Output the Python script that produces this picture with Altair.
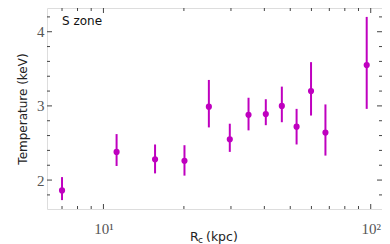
import altair as alt
import pandas as pd

radius = [7.0, 11.2, 15.6, 20.1, 24.8, 29.7, 34.9, 40.5, 46.5, 52.8, 59.8, 67.7, 96.6]
temp = [1.86, 2.38, 2.28, 2.26, 2.99, 2.55, 2.88, 2.89, 3.00, 2.72, 3.20, 2.64, 3.55]
temp_hi = [2.04, 2.62, 2.48, 2.47, 3.35, 2.76, 3.11, 3.09, 3.26, 2.96, 3.59, 3.02, 4.20]
temp_lo = [1.73, 2.19, 2.09, 2.06, 2.71, 2.38, 2.67, 2.74, 2.78, 2.48, 2.87, 2.33, 2.96]

x_major = [10, 100]
x_minor = [7, 8, 9, 20, 30, 40, 50, 60, 70, 80, 90]
y_major = [2, 3, 4]
y_minor = [1.8, 2.2, 2.4, 2.6, 2.8, 3.2, 3.4, 3.6, 3.8, 4.2]

W, H = 335, 201
COLOR = "#bf00bf"
AXC = "#444444"

df = pd.DataFrame({"r": radius, "t": temp, "hi": temp_hi, "lo": temp_lo})
xs = alt.Scale(type="log", domain=[6.15, 110.2], nice=False)
ys = alt.Scale(domain=[1.61, 4.32], nice=False, zero=False)

xaxis = alt.Axis(values=x_major, ticks=False, domain=False, grid=False,
                 labelExpr="datum.value == 10 ? '10¹' : '10²'",
                 labelFont="Liberation Serif", labelFontSize=15, labelColor="#555555",
                 labelPadding=12, title=None)
yaxis = alt.Axis(values=y_major, ticks=False, domain=False, grid=False, format="d",
                 labelFont="Liberation Serif", labelFontSize=15, labelColor="#555555",
                 labelPadding=3, title="Temperature (keV)", titleFont="DejaVu Sans",
                 titleFontSize=12, titleFontWeight="normal", titleColor="#222222",
                 titlePadding=7)

bars = alt.Chart(df).mark_rule(color=COLOR, strokeWidth=2).encode(
    x=alt.X("r:Q", scale=xs, axis=xaxis),
    y=alt.Y("lo:Q", scale=ys, axis=yaxis),
    y2="hi:Q",
)
pts = alt.Chart(df).mark_circle(color=COLOR, opacity=1, size=38).encode(
    x=alt.X("r:Q", scale=xs), y=alt.Y("t:Q", scale=ys)
)

def xticks(vals, L):
    d = pd.DataFrame({"v": vals})
    bot = alt.Chart(d).mark_rule(color=AXC, strokeWidth=1).encode(
        x=alt.X("v:Q", scale=xs), y=alt.value(H), y2=alt.value(H - L))
    top = alt.Chart(d).mark_rule(color=AXC, strokeWidth=1).encode(
        x=alt.X("v:Q", scale=xs), y=alt.value(0), y2=alt.value(L))
    return [bot, top]

def yticks(vals, L):
    d = pd.DataFrame({"v": vals})
    lft = alt.Chart(d).mark_rule(color=AXC, strokeWidth=1).encode(
        y=alt.Y("v:Q", scale=ys), x=alt.value(0), x2=alt.value(L))
    rgt = alt.Chart(d).mark_rule(color=AXC, strokeWidth=1).encode(
        y=alt.Y("v:Q", scale=ys), x=alt.value(W), x2=alt.value(W - L))
    return [lft, rgt]

ticks = xticks(x_major, 5) + xticks(x_minor, 3) + yticks(y_major, 5) + yticks(y_minor, 3)

label_df = pd.DataFrame({"s": ["S zone"]})
zone = alt.Chart(label_df).mark_text(align="left", baseline="middle", font="DejaVu Sans",
                                     fontSize=12, color="#111111").encode(
    text="s:N", x=alt.value(15), y=alt.value(13))

tR = alt.Chart(pd.DataFrame({"s": ["R"]})).mark_text(align="left", baseline="middle",
        font="DejaVu Sans", fontSize=12.5, color="#222222").encode(
    text="s:N", x=alt.value(143), y=alt.value(229))
tc = alt.Chart(pd.DataFrame({"s": ["c"]})).mark_text(align="left", baseline="middle",
        font="DejaVu Sans", fontSize=9, color="#222222").encode(
    text="s:N", x=alt.value(151), y=alt.value(232))
tk = alt.Chart(pd.DataFrame({"s": ["(kpc)"]})).mark_text(align="left", baseline="middle",
        font="DejaVu Sans", fontSize=12.5, color="#222222").encode(
    text="s:N", x=alt.value(159), y=alt.value(229))

chart = alt.layer(bars, pts, *ticks, zone, tR, tc, tk).properties(
    width=W, height=H,
    autosize=alt.AutoSizeParams(type="none"),
    padding={"left": 39, "top": 0, "right": 0, "bottom": 35},
).configure_view(stroke=AXC, strokeWidth=1).configure(background="white")

chart.save("out.html", embed_options={"renderer": "svg", "actions": False})
